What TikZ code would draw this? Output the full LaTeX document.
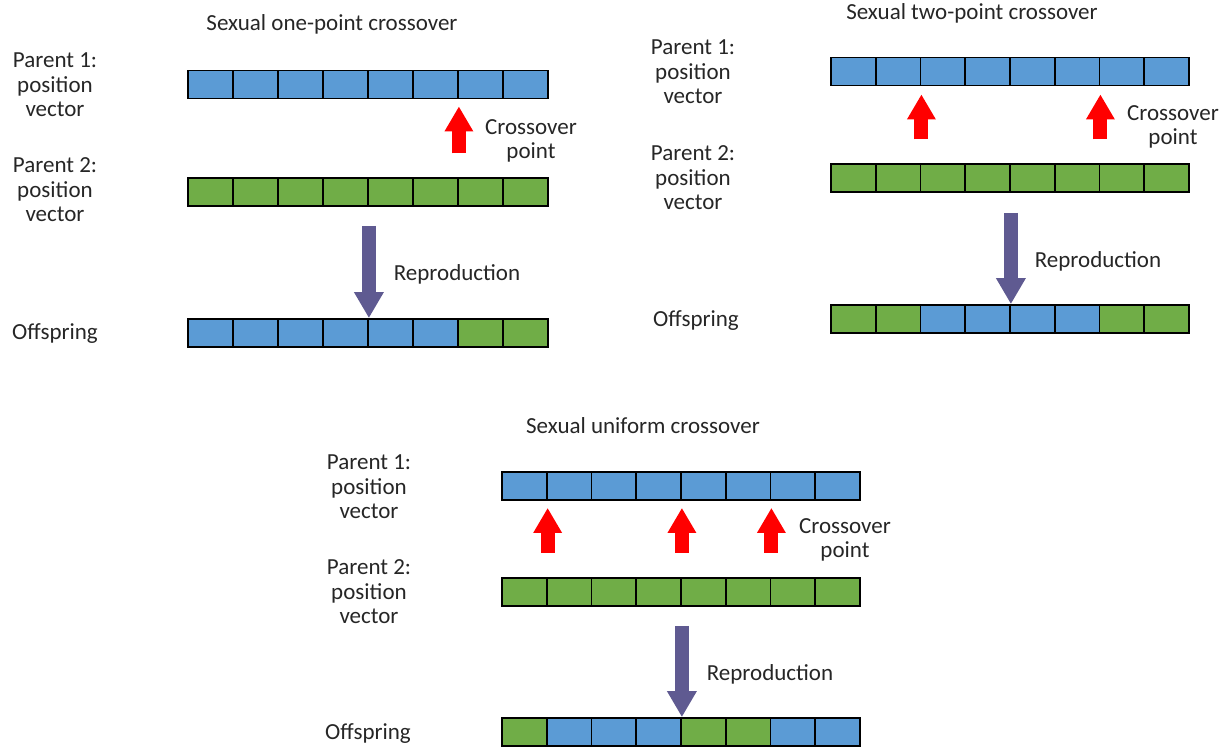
\documentclass[tikz,border=0pt]{standalone}
\usepackage{fontspec}
\setmainfont{Carlito}
\usetikzlibrary{arrows.meta,calc}

\definecolor{cellblue}{RGB}{91,155,213}
\definecolor{cellgreen}{RGB}{112,173,71}
\definecolor{xred}{RGB}{255,0,0}
\definecolor{repro}{RGB}{95,90,145}
\definecolor{txt}{RGB}{38,38,38}

% one row of eight cells: name, left x, centre y, cell width, colours
\newcommand\cellrow[5]{%
  \foreach \col [count=\i] in {#5} {
    \node[cell, minimum width=#4pt, fill=\col] (#1-\i) at ({#2+(\i-0.5)*#4}, {#3}) {};
  }%
}

\begin{document}
\begin{tikzpicture}[x=1pt, y=-1pt,
  cell/.style={draw=black, line width=1.8pt, minimum height=28pt, inner sep=0pt},
  lbl/.style={align=center, inner sep=0pt, text=txt,
    font=\fontsize{23}{24.5}\selectfont},
  xarrow/.style={draw=xred, line width=14pt, -{Triangle[width=27pt,length=25pt]}},
  rarrow/.style={draw=repro, line width=14pt, -{Triangle[width=28pt,length=26pt]}}]
\useasboundingbox (0,0) rectangle (1227,748);

% ---------- one-point crossover ----------
\node[lbl] (t1) at (332,24) {Sexual one-point crossover};
\node[lbl] (a1p1) at (55,85) {Parent 1:\\position\\vector};
\node[lbl] (a1p2) at (55,190) {Parent 2:\\position\\vector};
\node[lbl] (a1o) at (55,334) {Offspring};
\cellrow{a1r}{188}{84.5}{45}{cellblue,cellblue,cellblue,cellblue,cellblue,cellblue,cellblue,cellblue}
\cellrow{a1g}{188}{192}{45}{cellgreen,cellgreen,cellgreen,cellgreen,cellgreen,cellgreen,cellgreen,cellgreen}
\cellrow{a1c}{188}{333}{45}{cellblue,cellblue,cellblue,cellblue,cellblue,cellblue,cellgreen,cellgreen}
\draw[xarrow] ($(a1r-6.south east)+(0,54)$) -- ($(a1r-6.south east)+(0,7)$);
\node[lbl] (a1x) at (531,141) {Crossover\\point};
\draw[rarrow] ($(a1g-4.south east)+(0,19)$) -- (a1c-4.north east);
\node[lbl] (a1y) at (457,274) {Reproduction};

% ---------- two-point crossover ----------
\node[lbl] (t2) at (972,13) {Sexual two-point crossover};
\node[lbl] (a2p1) at (693,72) {Parent 1:\\position\\vector};
\node[lbl] (a2p2) at (693,178) {Parent 2:\\position\\vector};
\node[lbl] (a2o) at (696,321) {Offspring};
\cellrow{a2r}{831}{71.5}{44.75}{cellblue,cellblue,cellblue,cellblue,cellblue,cellblue,cellblue,cellblue}
\cellrow{a2g}{831}{178}{44.75}{cellgreen,cellgreen,cellgreen,cellgreen,cellgreen,cellgreen,cellgreen,cellgreen}
\cellrow{a2c}{831}{319}{44.75}{cellgreen,cellgreen,cellblue,cellblue,cellblue,cellblue,cellgreen,cellgreen}
\draw[xarrow] ($(a2r-2.south east)+(0,53)$) -- ($(a2r-2.south east)+(0,8)$);
\draw[xarrow] ($(a2r-6.south east)+(0,53)$) -- ($(a2r-6.south east)+(0,8)$);
\node[lbl] (a2x) at (1173,127) {Crossover\\point};
\draw[rarrow] ($(a2g-4.south east)+(0,20)$) -- (a2c-4.north east);
\node[lbl] (a2y) at (1098,261) {Reproduction};

% ---------- uniform crossover ----------
\node[lbl] (t3) at (643,426) {Sexual uniform crossover};
\node[lbl] (a3p1) at (369,487) {Parent 1:\\position\\vector};
\node[lbl] (a3p2) at (369,592) {Parent 2:\\position\\vector};
\node[lbl] (a3o) at (368,734) {Offspring};
\cellrow{a3r}{502}{486}{44.75}{cellblue,cellblue,cellblue,cellblue,cellblue,cellblue,cellblue,cellblue}
\cellrow{a3g}{502}{592}{44.75}{cellgreen,cellgreen,cellgreen,cellgreen,cellgreen,cellgreen,cellgreen,cellgreen}
\cellrow{a3c}{502}{732}{44.75}{cellgreen,cellblue,cellblue,cellblue,cellgreen,cellgreen,cellblue,cellblue}
\draw[xarrow] ($(a3r-1.south east)+(0,52)$) -- ($(a3r-1.south east)+(0,7)$);
\draw[xarrow] ($(a3r-4.south east)+(0,52)$) -- ($(a3r-4.south east)+(0,7)$);
\draw[xarrow] ($(a3r-6.south east)+(0,52)$) -- ($(a3r-6.south east)+(0,7)$);
\node[lbl] (a3x) at (845,540) {Crossover\\point};
\draw[rarrow] ($(a3g-4.south east)+(0,19)$) -- (a3c-4.north east);
\node[lbl] (a3y) at (770,674) {Reproduction};
\end{tikzpicture}
\end{document}
